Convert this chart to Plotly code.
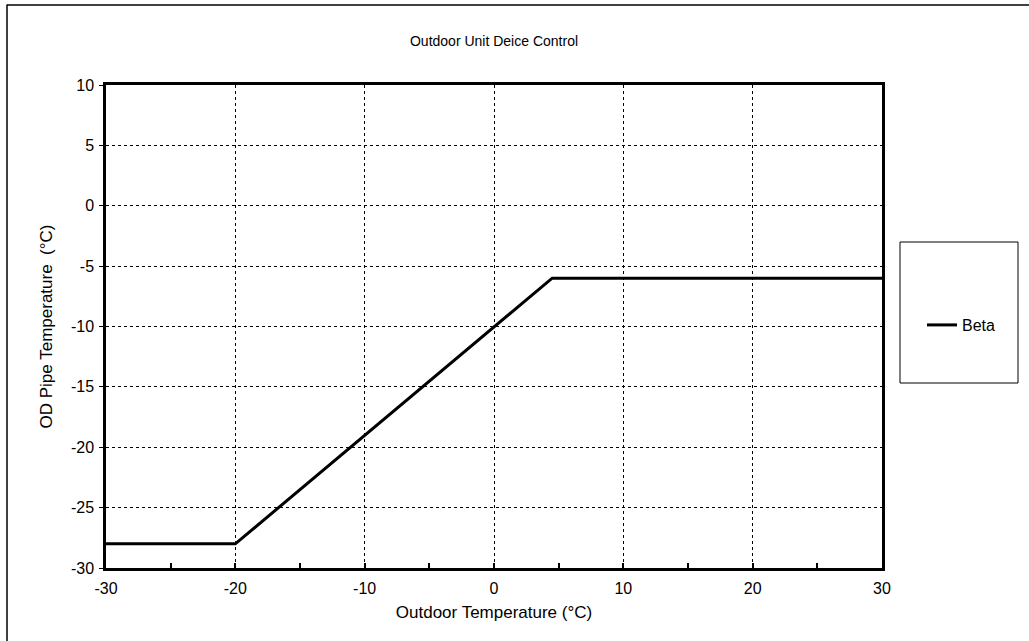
import plotly.graph_objects as go

x_vals = [-30, -20, 4.5, 30]
y_vals = [-28, -28, -6, -6]
series_name = "Beta"
title_text = "Outdoor Unit Deice Control"
x_title = "Outdoor Temperature (°C)"
y_title = "OD Pipe Temperature  (°C)"
x_ticks = [-30, -20, -10, 0, 10, 20, 30]
x_tick_labels = ["-30", "-20", "-10", "0", "10", "20", "30"]
y_ticks = [-30, -25, -20, -15, -10, -5, 0, 5, 10]
y_tick_labels = ["-30", "-25", "-20", "-15", "-10", "-5", "0", "5", "10"]

FONT = "Liberation Sans, Arial, sans-serif"
FS = 16

fig = go.Figure()
fig.add_trace(go.Scatter(x=x_vals, y=y_vals, mode="lines", name=series_name,
                         line=dict(color="black", width=3)))

W, H = 1029, 641
L, R, T, B = 106, 882, 85, 568
pw, ph = R - L, B - T

def px(xp):
    return (xp - L) / pw

def py(yp):
    return (B - yp) / ph

fig.update_layout(
    width=W, height=H,
    margin=dict(l=L, r=W - R, t=T, b=H - B),
    paper_bgcolor="white", plot_bgcolor="white",
    font=dict(family=FONT, size=FS, color="black"),
    title=dict(text=title_text, x=494 / W, xanchor="center",
               y=1 - 41 / H, yanchor="middle", font=dict(size=14)),
    showlegend=True,
    legend=dict(x=px(922), y=py(325), xanchor="left", yanchor="middle",
                bgcolor="rgba(0,0,0,0)", borderwidth=0, font=dict(size=FS)),
    xaxis=dict(range=[-30, 30], tickvals=x_ticks, ticktext=x_tick_labels,
               showline=True, mirror=True,
               linecolor="black", linewidth=2.5, ticks="inside", ticklen=5,
               tickcolor="black", tickwidth=1.5, tickfont=dict(size=FS),
               ticklabelstandoff=4,
               minor=dict(dtick=5, tick0=-30, ticks="inside", ticklen=5,
                          tickcolor="black", tickwidth=1.5, showgrid=False),
               showgrid=True, gridcolor="black", griddash="dot", gridwidth=1,
               zeroline=False,
               title=dict(text=x_title, standoff=11, font=dict(size=17)),
               fixedrange=True),
    yaxis=dict(range=[-30, 10], tickvals=y_ticks, ticktext=y_tick_labels,
               showline=True, mirror=True,
               linecolor="black", linewidth=2.5, ticks="outside", ticklen=4,
               tickcolor="black", tickwidth=1, tickfont=dict(size=FS),
               ticklabelstandoff=2,
               showgrid=True, gridcolor="black", griddash="dot", gridwidth=1,
               zeroline=False,
               title=dict(text=y_title, standoff=14, font=dict(size=17)),
               fixedrange=True),
    shapes=[
        dict(type="rect", xref="paper", yref="paper",
             x0=px(900), x1=px(1018), y0=py(383), y1=py(242),
             line=dict(color="black", width=1), fillcolor="rgba(0,0,0,0)"),
        dict(type="line", xref="paper", yref="paper",
             x0=px(7), x1=px(7), y0=py(700), y1=py(4.5),
             line=dict(color="black", width=1.5)),
        dict(type="line", xref="paper", yref="paper",
             x0=px(7), x1=px(1100), y0=py(5), y1=py(5),
             line=dict(color="black", width=1.5)),
    ],
)

fig.write_html("out.html", config={"displayModeBar": False},
               post_script="document.body.style.margin='0';document.body.style.overflow='hidden';")
